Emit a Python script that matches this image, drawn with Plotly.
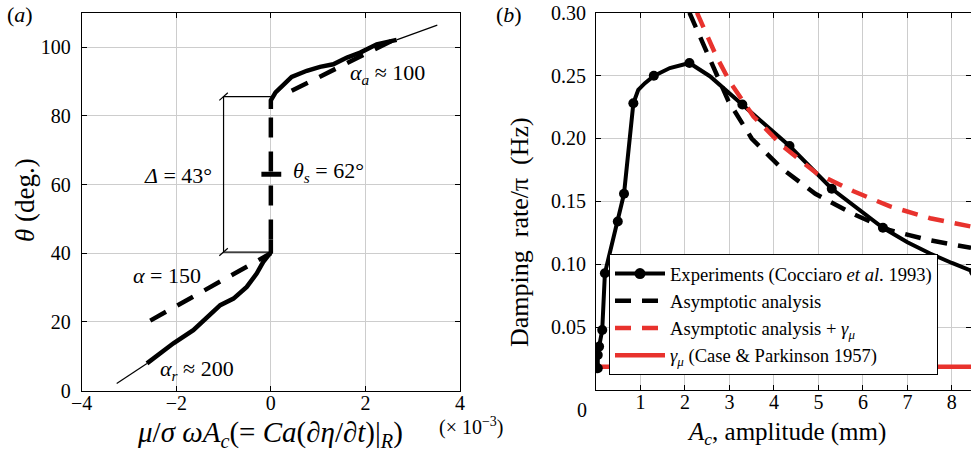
import plotly.graph_objects as go

W, H = 971, 459
FONT = "Liberation Serif"
RED = "rgb(232,50,45)"
GRID = "rgb(205,205,205)"
NB = "\u00a0"

# ---------------- panel (a) data ----------------
exp_low_x = [-2.62, -2.06, -1.64, -1.28, -1.07, -0.79, -0.51, -0.30, -0.16, 0.0, 0.0]
exp_low_y = [7.95, 13.8, 17.6, 22.5, 24.9, 26.8, 30.2, 34.1, 37.5, 40.3, 44.0]
exp_up_x = [0.0, 0.0, 0.1, 0.27, 0.44, 0.76, 1.04, 1.32, 1.61, 1.89, 2.24, 2.66]
exp_up_y = [82.0, 84.5, 86.8, 89.2, 91.3, 93.1, 94.25, 95.0, 96.95, 98.4, 100.8, 102.1]
thin_low_x = [-3.26, -2.62]
thin_low_y = [2.1, 7.95]
thin_up_x = [2.66, 3.52]
thin_up_y = [102.1, 106.4]
adv_fit_x = [0.44, 2.63]          # alpha_a ~ 100 fit
adv_fit_y = [87.3, 102.3]
rec_fit_x = [-2.55, 0.0]          # alpha = 150 fit
rec_fit_y = [20.4, 40.0]
pin_x = [0.0, 0.0]                # pinned region
pin_y = [44.0, 82.0]
thetas_x = [-0.2, 0.22]
thetas_y = [63.0, 63.0]
brk_x = [0.0, -1.0, -1.0, 0.0]
brk_y = [85.6, 85.6, 40.35, 40.35]
slash_top_x = [-1.09, -0.91]
slash_top_y = [84.5, 86.7]
slash_bot_x = [-1.09, -0.91]
slash_bot_y = [39.25, 41.45]
a_xticks = [-4, -2, 0, 2, 4]
a_yticks = [0, 20, 40, 60, 80, 100]

# ---------------- panel (b) data ----------------
expb_x = [0.04, 0.04, 0.07, 0.14, 0.20, 0.49, 0.63, 0.84, 0.95, 1.10, 1.30, 1.66, 2.10,
          2.56, 3.29, 4.35, 5.30, 6.45, 7.00, 7.51, 8.00, 8.50]
expb_y = [0.0173, 0.0278, 0.0345, 0.0477, 0.0928, 0.134, 0.156, 0.228, 0.2387, 0.244,
          0.2498, 0.256, 0.260, 0.2495, 0.227, 0.194, 0.160, 0.129, 0.1175, 0.1085, 0.101, 0.094]
expb_mk_x = [0.04, 0.04, 0.07, 0.14, 0.20, 0.49, 0.63, 0.84, 1.30, 2.10, 3.29, 4.35, 5.30, 6.45, 8.50]
expb_mk_y = [0.0173, 0.0278, 0.0345, 0.0477, 0.0928, 0.134, 0.156, 0.228, 0.2498, 0.260,
             0.227, 0.194, 0.160, 0.129, 0.094]
asym_x = [2.10, 2.45, 2.98, 3.50, 4.18, 4.93, 5.75, 6.61, 7.51, 8.43]
asym_y = [0.300, 0.272, 0.2295, 0.200, 0.176, 0.156, 0.1405, 0.127, 0.119, 0.113]
asymg_x = [2.27, 2.71, 3.01, 3.54, 4.21, 4.97, 5.79, 6.61, 7.51, 8.43]
asymg_y = [0.300, 0.265, 0.245, 0.2175, 0.1935, 0.172, 0.158, 0.146, 0.1366, 0.130]
gmu_x = [0.0, 8.50]
gmu_y = [0.0185, 0.0185]
b_xticks = [0, 1, 2, 3, 4, 5, 6, 7, 8]
b_xticktext = ["", "1", "2", "3", "4", "5", "6", "7", "8"]
b_yticks = [0.05, 0.10, 0.15, 0.20, 0.25, 0.30]
b_yticktext = ["0.05", "0.10", "0.15", "0.20", "0.25", "0.30"]

fig = go.Figure()


def line(x, y, width, dash=None, color="black", ax="a", **kw):
    xa, ya = ("x", "y") if ax == "a" else ("x2", "y2")
    fig.add_trace(go.Scatter(x=x, y=y, mode="lines", xaxis=xa, yaxis=ya,
                             line=dict(color=color, width=width, dash=dash),
                             showlegend=kw.pop("showlegend", False), hoverinfo="skip", **kw))

# panel (a)
line(thin_low_x, thin_low_y, 1.2)
line(thin_up_x, thin_up_y, 1.2)
line(brk_x, brk_y, 1.2)
line(slash_top_x, slash_top_y, 1.2)
line(slash_bot_x, slash_bot_y, 1.2)
line(exp_low_x, exp_low_y, 4.5)
line(exp_up_x, exp_up_y, 4.5)
line(adv_fit_x, adv_fit_y, 4.5, dash="18px,13px")
line(rec_fit_x, rec_fit_y, 4.5, dash="18px,13px")
line(pin_x, pin_y, 4.5, dash="20px,14px")
line(thetas_x, thetas_y, 5)

# panel (b)
line(gmu_x, gmu_y, 4.5, color=RED, ax="b", showlegend=True,
     name="<i>γ</i><sub><i>μ</i></sub> (Case &amp; Parkinson 1957)", legendrank=4)
line(expb_x, expb_y, 4, ax="b")
fig.add_trace(go.Scatter(x=expb_mk_x, y=expb_mk_y, mode="markers", xaxis="x2", yaxis="y2",
                         marker=dict(color="black", size=10), showlegend=False, hoverinfo="skip"))
fig.add_trace(go.Scatter(x=[None], y=[None], mode="lines+markers", xaxis="x2", yaxis="y2",
                         line=dict(color="black", width=4), marker=dict(color="black", size=11),
                         name="Experiments (Cocciaro <i>et al</i>. 1993)", legendrank=1))
line(asym_x, asym_y, 4.5, dash="16px,11px", ax="b", showlegend=True,
     name="Asymptotic analysis", legendrank=2)
line(asymg_x, asymg_y, 4.5, dash="16px,11px", color=RED, ax="b", showlegend=True,
     name="Asymptotic analysis + <i>γ</i><sub><i>μ</i></sub>", legendrank=3)


def px(x):
    return x / W


def py(y):
    return 1 - y / H


axis_common = dict(showline=True, linecolor="black", linewidth=1, mirror="ticks",
                   ticks="inside", ticklen=5, tickcolor="black", showgrid=True,
                   gridcolor=GRID, gridwidth=1, zeroline=False, automargin=False,
                   tickfont=dict(family=FONT, size=20, color="black"))

fig.update_layout(
    width=W, height=H, margin=dict(l=0, r=0, t=0, b=0),
    paper_bgcolor="white", plot_bgcolor="white",
    font=dict(family=FONT, color="black"),
    xaxis=dict(domain=[px(81.7), px(460)], range=[-4, 4], tickvals=a_xticks,
               anchor="y", ticklabelstandoff=-6, **axis_common),
    yaxis=dict(domain=[py(390.7), py(12.7)], range=[0, 110], tickvals=a_yticks,
               anchor="x", ticklabelstandoff=6, **axis_common),
    xaxis2=dict(domain=[px(596), 1.0], range=[0, 8.43], tickvals=b_xticks, ticktext=b_xticktext,
                anchor="y2", ticklabelstandoff=-6, **axis_common),
    yaxis2=dict(domain=[py(390), py(12.7)], range=[0, 0.30], tickvals=b_yticks, ticktext=b_yticktext,
                anchor="x2", ticklabelstandoff=5, **axis_common),
    legend=dict(x=px(609), y=py(254), xanchor="left", yanchor="top",
                bgcolor="white", bordercolor="black", borderwidth=1,
                font=dict(family=FONT, size=18.6, color="black"), itemwidth=50,
                tracegroupgap=0),
    showlegend=True,
)


def ann(text, x, y, size=20, angle=0, xanchor="center", **kw):
    fig.add_annotation(text=text, x=px(x), y=py(y), xref="paper", yref="paper",
                       showarrow=False, textangle=angle, xanchor=xanchor, yanchor="middle",
                       font=dict(family=FONT, size=size, color="black"), **kw)


ann("(<i>a</i>)", 20, 15, size=22)
ann("(<i>b</i>)", 509, 15, size=22)
ann("<i>θ</i> (deg.)", 25, 200, size=27, angle=-90)
ann("Damping" + NB + " rate/π" + NB + " (Hz)", 519, 232, size=26, angle=-90)
ann("<i>μ</i>/<i>σ ωA</i><sub><i>c</i></sub>(= <i>Ca</i>(∂<i>η</i>/∂<i>t</i>)|<sub><i>R</i></sub>)",
    270, 434, size=29)
ann("(× 10<sup>−3</sup>)", 437, 426, size=20, xanchor="left")
ann("<i>A</i><sub><i>c</i></sub>, amplitude (mm)", 786, 433, size=25)
ann("<i>α</i><sub><i>a</i></sub> ≈ 100", 387, 74, size=22)
ann("<i>θ</i><sub><i>s</i></sub> = 62°", 328, 172, size=22)
ann("<i>Δ</i> = 43°", 178, 175, size=22)
ann("<i>α</i> = 150", 167, 275, size=22)
ann("<i>α</i><sub><i>r</i></sub> ≈ 200", 197, 370, size=22)
# x tick label "0" of panel (b), drawn left of the corner as in the reference
fig.add_annotation(text="0", x=0, y=0, xref="x2", yref="y2", showarrow=False,
                   xshift=-14, yshift=-20, font=dict(family=FONT, size=20, color="black"))

fig.write_html("out.html")
